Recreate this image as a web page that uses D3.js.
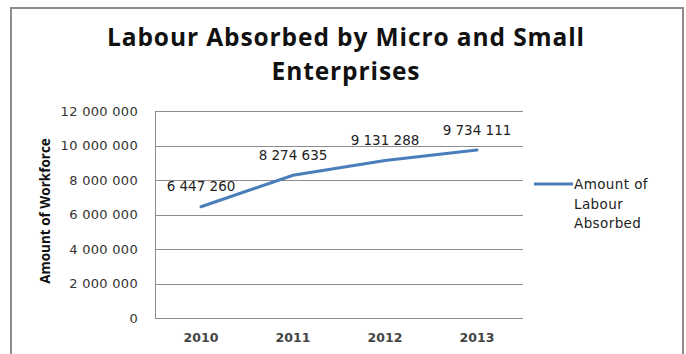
<!DOCTYPE html>
<html><head><meta charset="utf-8">
<script src="https://cdn.jsdelivr.net/npm/d3@7"></script>
<style>body{margin:0;background:#fff}</style>
</head><body><svg id="c" width="686" height="354"></svg>
<script>
const categories = ["2010","2011","2012","2013"];
const values = [6447260, 8274635, 9131288, 9734111];
const labels = ["6 447 260","8 274 635","9 131 288","9 734 111"];
const yTicks = [0,2000000,4000000,6000000,8000000,10000000,12000000];
const titleLines = ["Labour Absorbed by Micro and Small","Enterprises"];
const yTitle = "Amount of Workforce";
const legendLines = ["Amount of","Labour","Absorbed"];

const svg = d3.select("#c");
const fmt = v => d3.format(",")(v).replace(/,/g," ");
svg.append("rect").attr("x",11).attr("y",8).attr("width",672).attr("height",360)
  .attr("fill","#fff").attr("stroke","#8c8c8c").attr("stroke-width",2);

const m = {l:155, r:523, t:111, b:318};
const x = d3.scaleBand().domain(categories).range([m.l,m.r]);
const y = d3.scaleLinear().domain([0,12000000]).range([m.b,m.t]);

svg.append("g").selectAll("line").data(yTicks).join("line")
  .attr("x1",m.l).attr("x2",m.r).attr("y1",d=>Math.round(y(d))+0.5).attr("y2",d=>Math.round(y(d))+0.5)
  .attr("stroke","#8c8c8c").attr("stroke-width",1);
svg.append("line").attr("x1",m.l+0.5).attr("x2",m.l+0.5).attr("y1",m.t).attr("y2",m.b)
  .attr("stroke","#8c8c8c");

const yAxis = svg.append("g").attr("transform",`translate(${m.l},0)`)
  .call(d3.axisLeft(y).tickValues(yTicks).tickFormat(fmt).tickSize(0).tickPadding(17));
yAxis.select(".domain").remove();
yAxis.selectAll("text").attr("font-family","DejaVu Sans").attr("font-size",13)
  .attr("letter-spacing",0.3).attr("fill","#333");

const xAxis = svg.append("g").attr("transform",`translate(0,${m.b})`)
  .call(d3.axisBottom(x).tickSize(0).tickPadding(15));
xAxis.select(".domain").remove();
xAxis.selectAll("text").attr("font-family","DejaVu Sans").attr("font-weight","bold")
  .attr("font-size",12.5).attr("fill","#444");

const line = d3.line().x((d,i)=>x(categories[i])+x.bandwidth()/2).y(d=>y(d));
svg.append("path").datum(values).attr("d",line).attr("fill","none")
  .attr("stroke","#4a7ebb").attr("stroke-width",3).attr("stroke-linecap","round");

svg.append("g").selectAll("text").data(values).join("text")
  .attr("x",(d,i)=>x(categories[i])+x.bandwidth()/2)
  .attr("y",d=>y(d)-15.5)
  .attr("text-anchor","middle").attr("font-family","DejaVu Sans").attr("font-size",13.5).attr("fill","#222")
  .text((d,i)=>labels[i]);

svg.append("g").selectAll("text").data(titleLines).join("text")
  .attr("x",346).attr("y",(d,i)=>46+i*34).attr("text-anchor","middle")
  .attr("font-family","Open Sans").attr("font-weight","bold").attr("font-size",24.5)
  .attr("letter-spacing",0.9).attr("fill","#111")
  .text(d=>d);

svg.append("text").attr("transform","translate(50,211) rotate(-90)").attr("text-anchor","middle")
  .attr("font-family","Open Sans").attr("font-weight","bold").attr("font-size",13.5).attr("fill","#111")
  .text(yTitle);

svg.append("line").attr("x1",534).attr("x2",573).attr("y1",184).attr("y2",184)
  .attr("stroke","#4a7ebb").attr("stroke-width",3);
svg.append("g").selectAll("text").data(legendLines).join("text")
  .attr("x",574).attr("y",(d,i)=>189+i*19.5)
  .attr("font-family","DejaVu Sans").attr("font-size",13.5).attr("letter-spacing",0.4)
  .attr("fill","#222").text(d=>d);
</script></body></html>
